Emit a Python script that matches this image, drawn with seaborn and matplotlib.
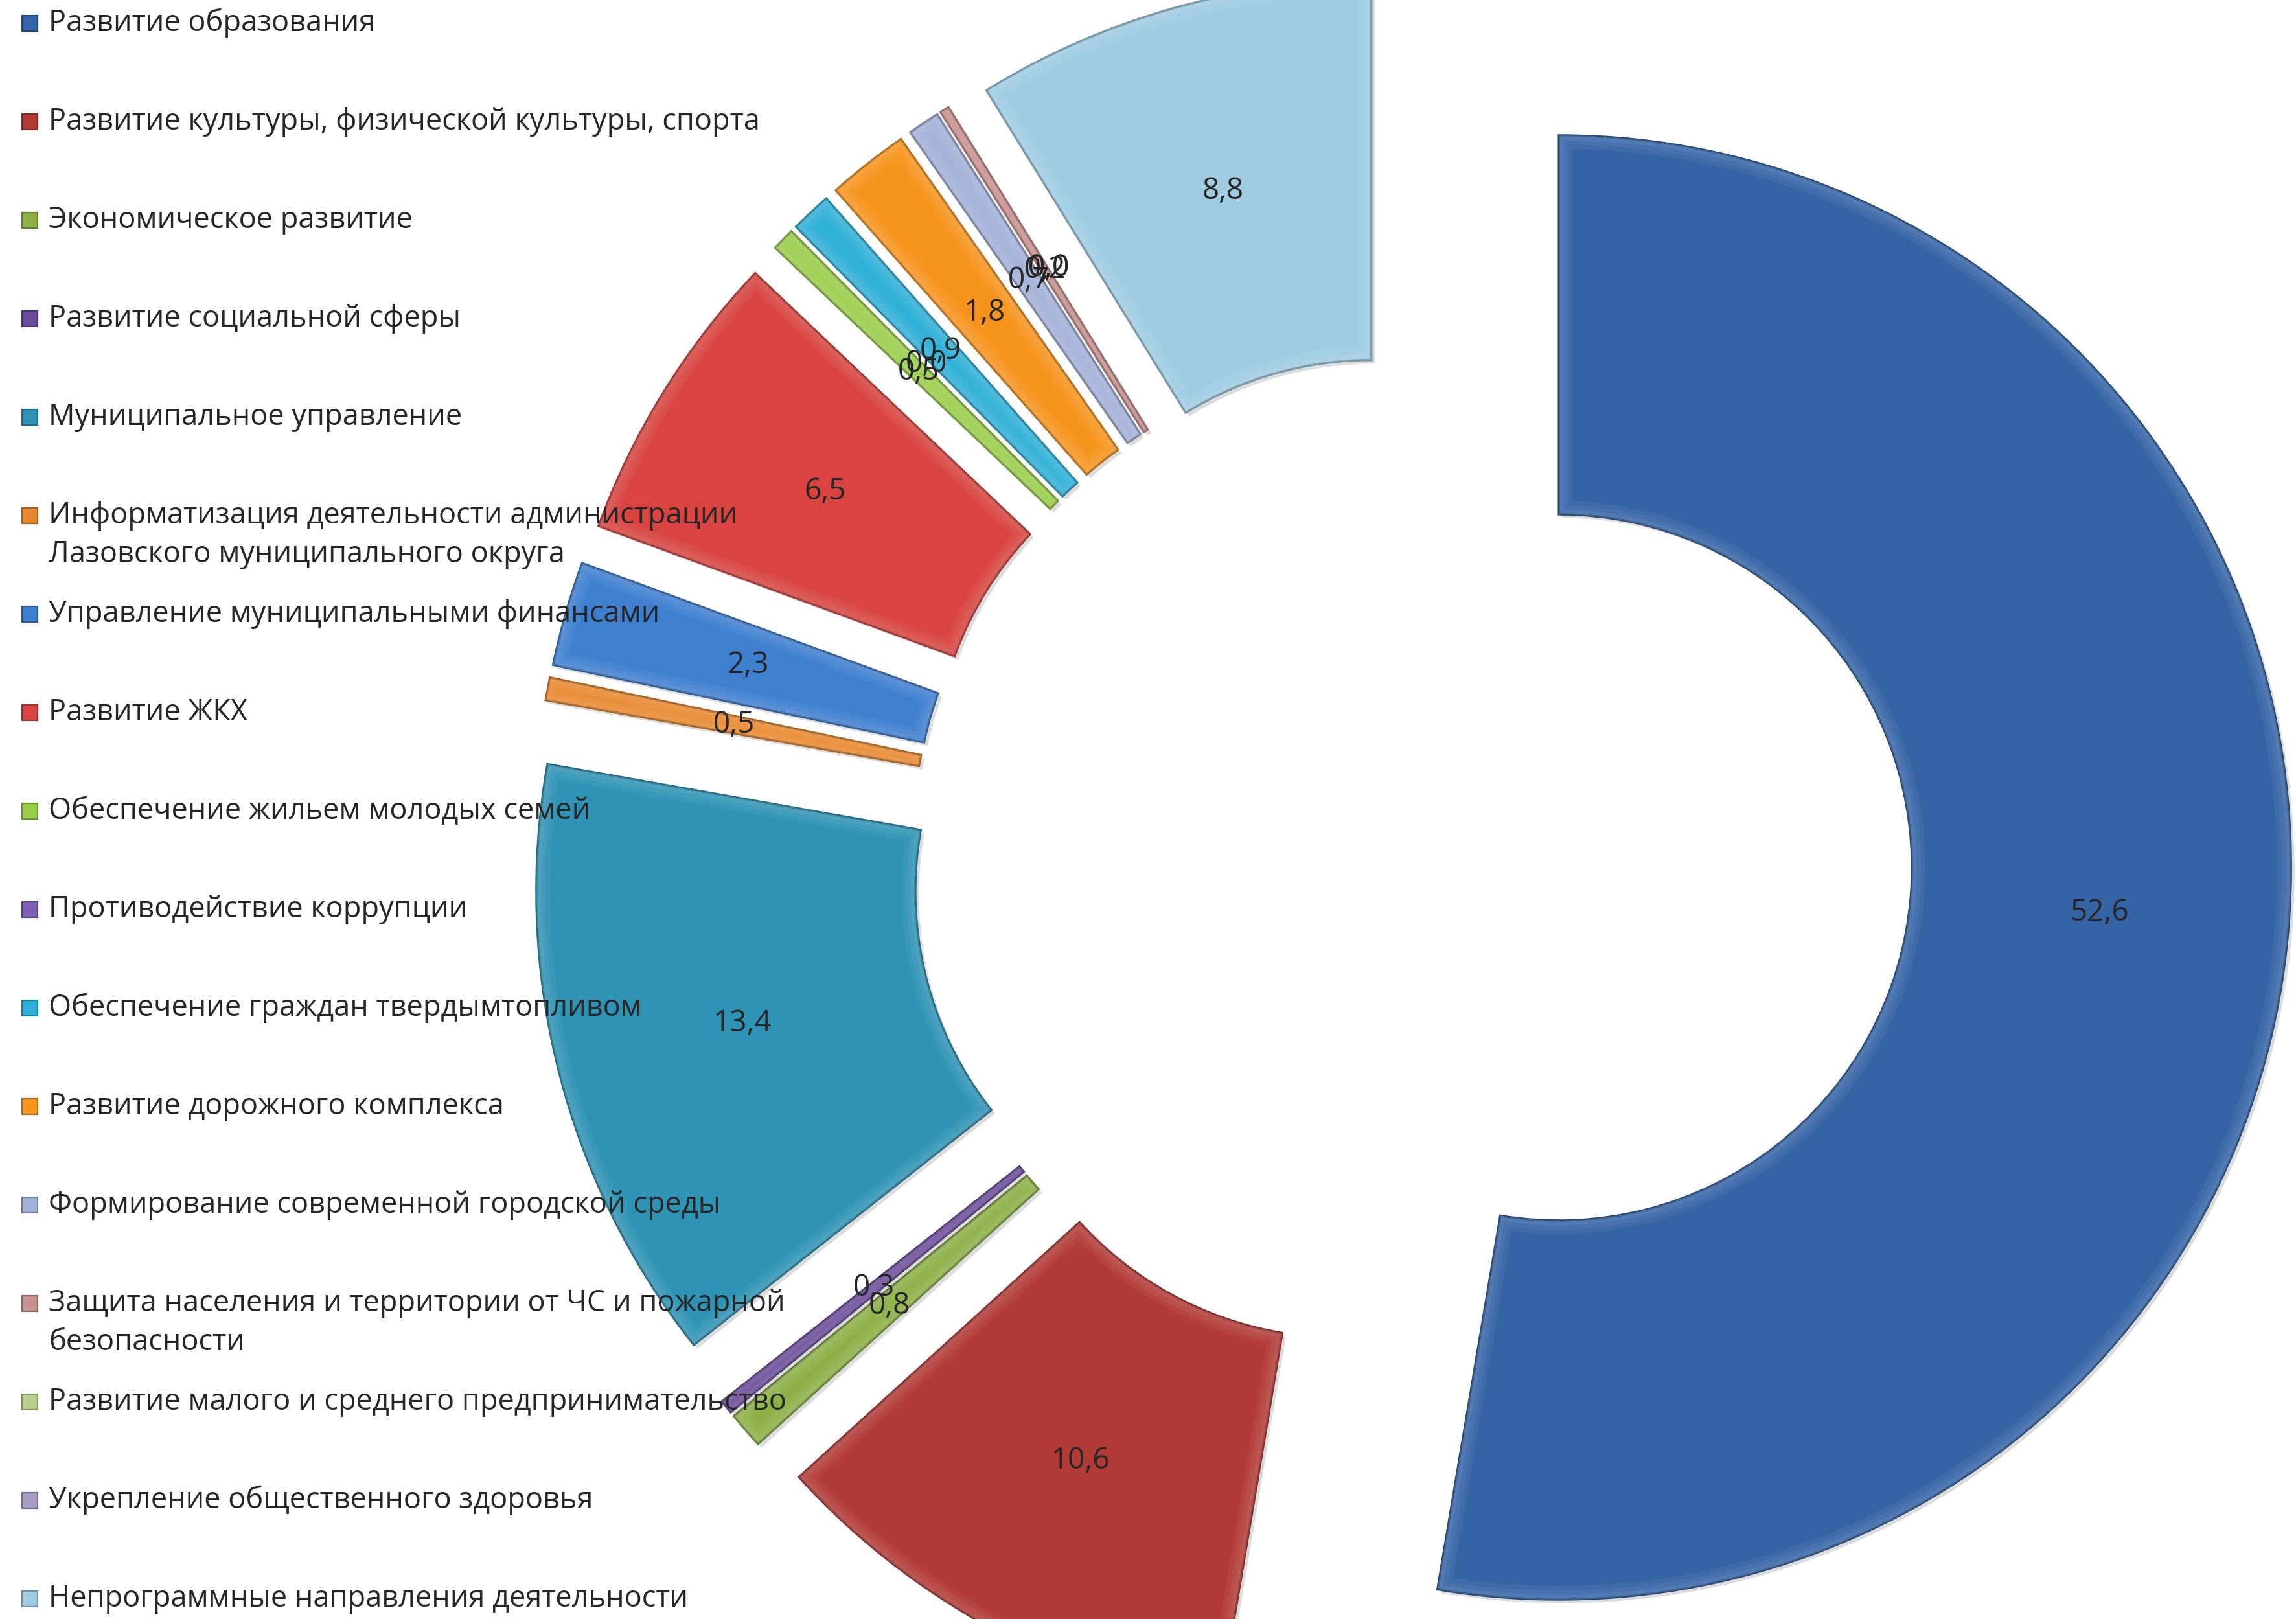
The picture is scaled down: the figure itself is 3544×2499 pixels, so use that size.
import seaborn as sns
import matplotlib.pyplot as plt
from matplotlib import patheffects as pe
from matplotlib.patches import Wedge
from matplotlib.colors import to_rgb
import numpy as np

names = [
    'Развитие образования',
    'Развитие культуры, физической культуры, спорта',
    'Экономическое развитие',
    'Развитие социальной сферы',
    'Муниципальное управление',
    'Информатизация деятельности администрации\nЛазовского муниципального округа',
    'Управление муниципальными финансами',
    'Развитие ЖКХ',
    'Обеспечение жильем молодых семей',
    'Противодействие коррупции',
    'Обеспечение граждан твердымтопливом',
    'Развитие дорожного комплекса',
    'Формирование современной городской среды',
    'Защита населения и территории от ЧС и пожарной\nбезопасности',
    'Развитие малого и среднего предпринимательство',
    'Укрепление общественного здоровья',
    'Непрограммные направления деятельности',
]
values = [52.6, 10.6, 0.8, 0.3, 13.4, 0.5, 2.3, 6.5, 0.5, 0.0, 0.9, 1.8, 0.7, 0.2, 0.0, 0.0, 8.8]
colors_hex = ['#3564A6', '#B23A37', '#8CB045', '#6B4C9A', '#2E93B5', '#E8882E',
              '#3F7FD0', '#D94441', '#9ACD4A', '#7E5FB5', '#2FB0D8', '#F7941E',
              '#A3B2DA', '#C8908E', '#B8D08C', '#A899C4', '#A0CCE2']

sns.set_theme(style='white')
plt.rcParams['font.family'] = ['Open Sans', 'DejaVu Sans']
palette = sns.color_palette(colors_hex)

W, H = 3544, 2499
fig = plt.figure(figsize=(W / 100, H / 100), dpi=100)
ax = fig.add_axes([0, 0, 1, 1])

wedges, _ = ax.pie(values, colors=palette, startangle=90, counterclock=False,
                   radius=1130, center=(2179, 1179), explode=[228] * len(values),
                   wedgeprops=dict(width=585, linewidth=2.5))

for w, c, v in zip(wedges, palette, values):
    dark = tuple(np.array(to_rgb(c)) * 0.72)
    w.set_edgecolor(dark)
    if v == 0:
        w.set_linewidth(0)
        continue
    w.set_path_effects([pe.SimplePatchShadow(offset=(4, -4), shadow_rgbFace='k', alpha=0.15),
                        pe.Normal()])
    # soft bevel: faint light rim fading inwards
    for lw in (30, 20, 11):
        rim = Wedge(w.center, w.r, w.theta1, w.theta2, width=w.width,
                    facecolor='none', edgecolor='white', alpha=0.05, linewidth=lw)
        ax.add_patch(rim)
        rim.set_clip_path(w)

# data labels at mid radius of each (exploded) slice
for w, v in zip(wedges, values):
    t = np.deg2rad((w.theta1 + w.theta2) / 2)
    r = w.r - w.width / 2
    x = w.center[0] + r * np.cos(t)
    y = w.center[1] + r * np.sin(t)
    ax.text(x, y, f'{v:.1f}'.replace('.', ','), ha='center', va='center',
            fontsize=33, color='#262626', zorder=5)

ax.set_xlim(0, W)
ax.set_ylim(0, H)
ax.set_aspect('equal')
ax.axis('off')

# legend on the left
for i, (name, c) in enumerate(zip(names, palette)):
    yc = H - (36 + 152 * i)
    ax.add_patch(plt.Rectangle((34, yc - 12), 24, 24, facecolor=c,
                               edgecolor=tuple(np.array(to_rgb(c)) * 0.7), linewidth=1.5))
    ax.text(75, yc + 23, name, ha='left', va='top', fontsize=32.5,
            color='#262626', linespacing=1.4)

plt.savefig('out.png', dpi=100)
